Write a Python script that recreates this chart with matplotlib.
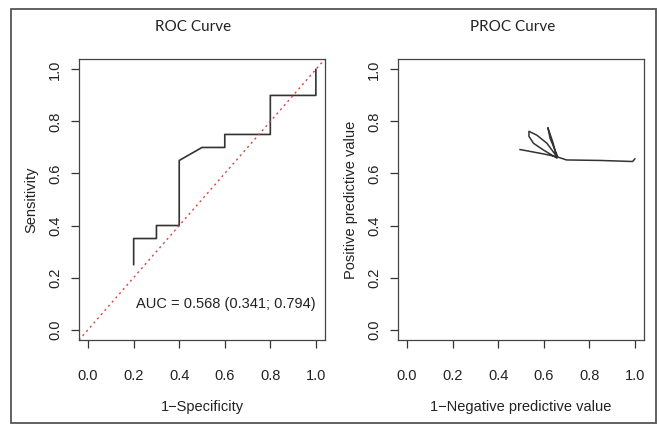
import matplotlib
matplotlib.use("Agg")
import matplotlib.pyplot as plt
from matplotlib.patches import Rectangle

# ROC curve (1-specificity, sensitivity)
roc_fpr = [0.2, 0.2, 0.3, 0.3, 0.4, 0.4, 0.5, 0.6, 0.6, 0.8, 0.8, 1.0, 1.0]
roc_tpr = [0.25, 0.35, 0.35, 0.4, 0.4, 0.65, 0.7, 0.7, 0.75, 0.75, 0.9, 0.9, 1.0]
auc_text = "AUC = 0.568 (0.341; 0.794)"

# PROC curve (1-NPV, PPV)
proc_x = [0.496, 0.60, 0.658, 0.614, 0.57, 0.535, 0.535, 0.555, 0.599, 0.658,
          0.64, 0.618, 0.628, 0.662, 0.70, 0.85, 0.99, 1.0]
proc_y = [0.692, 0.675, 0.664, 0.716, 0.747, 0.762, 0.743, 0.716, 0.690, 0.659,
          0.72, 0.776, 0.735, 0.663, 0.652, 0.650, 0.646, 0.656]

ticks = [0.0, 0.2, 0.4, 0.6, 0.8, 1.0]
tick_labels = ["0.0", "0.2", "0.4", "0.6", "0.8", "1.0"]

fig = plt.figure(figsize=(6.6, 4.25), dpi=100)
fig.patch.set_facecolor("white")
fig.patches.append(Rectangle((0.0167, 0.005), 0.977, 0.974, transform=fig.transFigure,
                             fill=False, edgecolor="#555555", linewidth=1.3))

ax1 = fig.add_axes([0.1197, 0.2, 0.3727, 0.6612])
ax2 = fig.add_axes([0.6030, 0.2, 0.3727, 0.6612])

lab_font = {"family": "Liberation Sans", "size": 10.5, "color": "#222222"}

for ax, xl, yl in [(ax1, "1\u2212Specificity", "Sensitivity"),
                   (ax2, "1\u2212Negative predictive value", "Positive predictive value")]:
    ax.set_xlim(-0.04, 1.04)
    ax.set_ylim(-0.04, 1.04)
    ax.set_xticks(ticks)
    ax.set_yticks(ticks)
    ax.set_xticklabels(tick_labels, fontdict=lab_font)
    ax.set_yticklabels(tick_labels, fontdict=lab_font, rotation=90, va="center")
    ax.tick_params(axis="x", length=6, width=0.9, color="#333333", pad=15)
    ax.tick_params(axis="y", length=6, width=0.9, color="#333333", pad=6)
    for s in ax.spines.values():
        s.set_color("#444444")
        s.set_linewidth(0.9)
    ax.set_xlabel(xl, fontdict=lab_font, labelpad=12)
    ax.set_ylabel(yl, fontdict=lab_font, labelpad=7)

ax1.plot(roc_fpr, roc_tpr, color="#333333", linewidth=1.2)
ax1.plot([-0.04, 1.04], [-0.04, 1.04], color="#e04040", linestyle=(0, (1.5, 2.5)), linewidth=1.0)
ax1.text(1.0, 0.10, auc_text, ha="right", va="center", fontdict=lab_font)

ax2.plot(proc_x, proc_y, color="#333333", linewidth=1.1)

fig.text(0.292, 0.936, "ROC Curve", ha="center", va="center",
         family="Lato", fontsize=11, color="#222222")
fig.text(0.777, 0.936, "PROC Curve", ha="center", va="center",
         family="Lato", fontsize=11, color="#222222")

fig.savefig("out.png", dpi=100)
